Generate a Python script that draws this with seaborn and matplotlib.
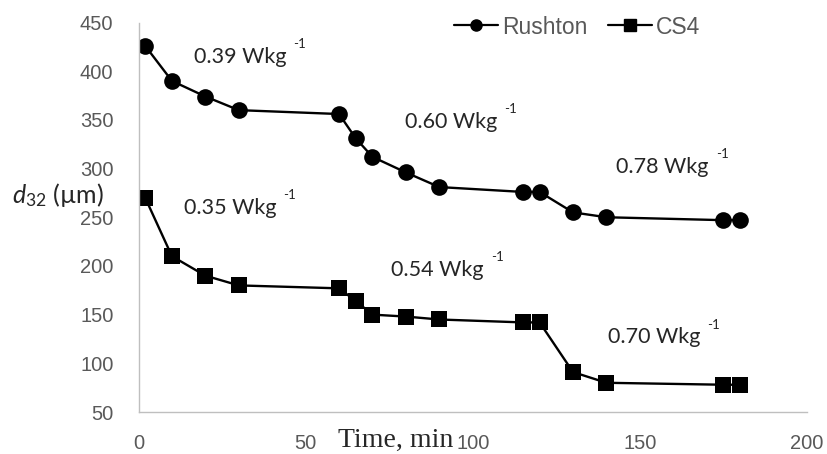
import matplotlib
matplotlib.use("Agg")
import matplotlib.pyplot as plt
import seaborn as sns
import pandas as pd
from matplotlib.lines import Line2D

rushton_time = [2, 10, 20, 30, 60, 65, 70, 80, 90, 115, 120, 130, 140, 175, 180]
rushton_d32 = [426, 390, 374, 360, 356, 331, 312, 296, 281, 276, 276, 255, 250, 247, 247]
cs4_time = [2, 10, 20, 30, 60, 65, 70, 80, 90, 115, 120, 130, 140, 175, 180]
cs4_d32 = [270, 210, 190, 180, 177, 164, 150, 148, 145, 142, 142, 91, 80, 78, 78]
series_names = ["Rushton", "CS4"]

power_labels = ["0.39 Wkg", "0.60 Wkg", "0.78 Wkg", "0.35 Wkg", "0.54 Wkg", "0.70 Wkg"]
label_x = [16.6, 79.7, 143.0, 13.6, 75.6, 140.5]
label_y = [415, 348, 302, 260, 196, 127]

x_ticks = [0, 50, 100, 150, 200]
y_ticks = [50, 100, 150, 200, 250, 300, 350, 400, 450]

sns.set_style("white")
plt.rcParams["font.family"] = ["Liberation Sans", "DejaVu Sans"]
plt.rcParams["mathtext.fontset"] = "custom"
plt.rcParams["mathtext.it"] = "Lato:italic"
plt.rcParams["mathtext.rm"] = "Lato"

df = pd.concat([
    pd.DataFrame({"time": rushton_time, "d32": rushton_d32, "impeller": series_names[0]}),
    pd.DataFrame({"time": cs4_time, "d32": cs4_d32, "impeller": series_names[1]}),
])

fig = plt.figure(figsize=(8.27, 4.54), dpi=100)
ax = fig.add_axes([138.5 / 827, 1 - 412 / 454, (807 - 138.5) / 827, (412 - 22.5) / 454])

sns.lineplot(data=df, x="time", y="d32", hue="impeller", style="impeller",
             markers={"Rushton": "o", "CS4": "s"}, dashes=False,
             palette={"Rushton": "black", "CS4": "black"},
             markersize=12, linewidth=1.7, markeredgewidth=0, ax=ax, legend=False, sort=False)

ax.set_xlim(0, 200)
ax.set_ylim(50, 450)
ax.set_xticks(x_ticks)
ax.set_yticks(y_ticks)
ax.tick_params(axis="both", length=0, labelsize=14.5, labelcolor="#595959")
ax.tick_params(axis="y", pad=18)
ax.tick_params(axis="x", pad=16)
for s in ["top", "right"]:
    ax.spines[s].set_visible(False)
for s in ["left", "bottom"]:
    ax.spines[s].set_color("#bfbfbf")
    ax.spines[s].set_linewidth(1.0)
ax.set_xlabel("")
ax.set_ylabel("")

handles = [Line2D([], [], color="black", marker="o", markersize=8, linewidth=1.6),
           Line2D([], [], color="black", marker="s", markersize=9, linewidth=1.6)]
leg = fig.legend(handles, series_names, loc="center left",
                 bbox_to_anchor=(454 / 827, 1 - 27 / 454), ncol=2, frameon=False,
                 borderpad=0, borderaxespad=0, handlelength=1.9, handletextpad=0.2,
                 columnspacing=0.9, fontsize=16.5)
for t in leg.get_texts():
    t.set_color("#595959")

for txt, x, y in zip(power_labels, label_x, label_y):
    t = ax.text(x, y, txt, fontsize=15.5, family=["Lato", "DejaVu Sans"], ha="left", va="center")
    ax.annotate("-1", xy=(1, 0.5), xycoords=t, xytext=(5, 9), textcoords="offset points",
                fontsize=9.5, family=["Lato", "DejaVu Sans"], ha="left", va="center")

fig.text(12 / 827, 1 - 195 / 454, r"$\mathit{d}_{\mathit{32}}$" + " (\u00b5m)", fontsize=18,
         family=["Lato", "DejaVu Sans"], ha="left", va="center")
fig.text(396 / 827, 1 - 440 / 454, "Time, min", fontsize=20,
         family=["Liberation Serif", "DejaVu Serif"], ha="center", va="center")

fig.savefig("out.png", dpi=100)
